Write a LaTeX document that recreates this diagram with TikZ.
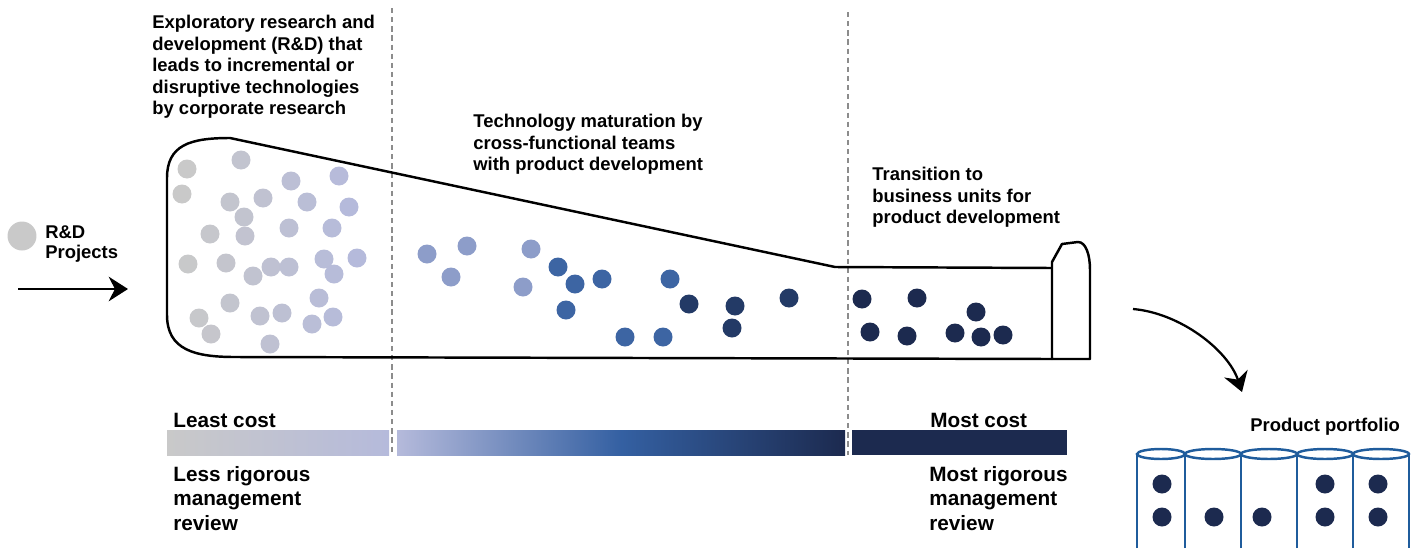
\documentclass[tikz,border=0pt]{standalone}
\usepackage{fontspec}
\setmainfont{Liberation Sans}
\usetikzlibrary{arrows.meta}

\definecolor{dotgray}{HTML}{C9C9C9}
\definecolor{dotlav}{HTML}{B5BADB}
\definecolor{dotsky}{HTML}{8D9DC9}
\definecolor{dotblue}{HTML}{3D65A3}
\definecolor{dotdeep}{HTML}{233A66}
\definecolor{dotnavy}{HTML}{1C2A4F}
\definecolor{barblue}{HTML}{3460A2}
\definecolor{cylblue}{HTML}{1F5C9C}
\definecolor{guidegray}{HTML}{8C8C8C}

%Cost ramp of the middle stage: lavender, blue, navy
\pgfdeclarehorizontalshading{costramp}{100bp}{color(0bp)=(dotlav); color(25bp)=(dotlav);
	color(50bp)=(barblue); color(75bp)=(dotnavy); color(100bp)=(dotnavy)}

\tikzset{
  dot/.style={circle, fill=#1, inner sep=0pt, minimum size=0.38cm},
  note/.style={anchor=north west, inner sep=0pt, align=left, font=\bfseries\fontsize{10.5}{12.2}\selectfont},
  costnote/.style={anchor=north west, inner sep=0pt, align=left, font=\bfseries\fontsize{11.8}{13.9}\selectfont},
  guide/.style={guidegray, line width=1.1pt, dash pattern=on 3pt off 2.2pt},
  outline/.style={line width=1.4pt, line join=round},
  cyl/.style={cylblue, line width=1.4pt},
  flow/.style={line width=1.3pt, -{Stealth[length=11pt,width=14pt]}},
}

\begin{document}
\begin{tikzpicture}[x=0.02cm, y=-0.02cm]

	%Page frame, in pixels of the original
	\useasboundingbox (0,0) rectangle (1416,548);

	%Stage separators
	\draw[guide] (392,8) -- (392,455);
	\draw[guide] (848,12) -- (848,455);

	%Funnel body and its end cap
	\draw[outline] (1052,268) -- (835,267) -- (230,138)
		.. controls (190,138) and (167,145) .. (167,178) -- (167,315)
		.. controls (167,350) and (195,357) .. (235,357) -- (1052,359);
	\draw[outline] (1052,359) -- (1052,262) -- (1062,244) -- (1078,242)
		.. controls (1086,242) and (1090,255) .. (1090,270) -- (1090,359) -- cycle;

	%Exploratory projects, gray fading to lavender
	\foreach \x/\y [count=\i] in {187/169, 241/160, 182/194, 291/181, 339/176, 230/202, 263/198,
		307/202, 349/207, 244/217, 210/234, 245/236, 289/228, 332/228, 188/264, 226/263,
		253/276, 271/267, 289/267, 324/259, 334/274, 357/258, 230/303, 199/318, 211/334,
		260/316, 282/313, 319/298, 312/324, 333/317, 270/344} {
		\pgfmathtruncatemacro{\mix}{min(100,max(0,(\x-182)/170*100))}
		\node[dot=dotlav!\mix!dotgray] (e\i) at (\x,\y) {};
	}

	%Maturing projects
	\foreach \x/\y [count=\i] in {427/254, 467/246, 451/277, 531/249, 523/287}
		\node[dot=dotsky] (s\i) at (\x,\y) {};
	\foreach \x/\y [count=\i] in {558/267, 575/284, 602/279, 566/310, 670/279, 625/337, 663/337}
		\node[dot=dotblue] (b\i) at (\x,\y) {};
	\foreach \x/\y [count=\i] in {689/304, 735/306, 732/328, 789/298}
		\node[dot=dotdeep] (d\i) at (\x,\y) {};

	%Projects handed to business units
	\foreach \x/\y [count=\i] in {862/299, 917/298, 976/312, 870/332, 907/336, 955/333, 981/337, 1003/335}
		\node[dot=dotnavy] (n\i) at (\x,\y) {};

	%Stage descriptions
	\node[note] (explore) at (152,15) {Exploratory research and\\development (R\&D) that\\leads to incremental or\\disruptive technologies\\by corporate research};
	\node[note] (mature) at (473,114) {Technology maturation by\\cross-functional teams\\with product development};
	\node[note] (handover) at (872,167) {Transition to\\business units for\\product development};

	%Input
	\node[circle, fill=dotgray, inner sep=0pt, minimum size=0.58cm] (rdmark) at (22,236) {};
	\node[note, font=\bfseries\fontsize{10.5}{11.4}\selectfont] (rdlabel) at (45,225) {R\&D\\Projects};
	\coordinate (feedtail) at (18,289);
	\coordinate (feedhead) at (128,289);
	\draw[flow] (feedtail) -- (feedhead);

	%Cost bar
	\shade[left color=dotgray, right color=dotlav] (167,430) rectangle (389,455);
	\shade[shading=costramp] (397,430) rectangle (845,455);
	\fill[dotnavy] (852,430) rectangle (1067,455);

	\node[costnote] (leastcost) at (173,413) {Least cost};
	\node[costnote] (lessreview) at (173,466) {Less rigorous\\management\\review};
	\node[costnote] (mostcost) at (930,413) {Most cost};
	\node[costnote] (mostreview) at (929,466) {Most rigorous\\management\\review};

	%Out to the portfolio
	\coordinate (funnelout) at (1133,309);
	\coordinate (shelftop) at (1242,392);
	\draw[flow] (funnelout) .. controls (1180,313) and (1228,350) .. (shelftop);

	\node[note] (portfolio) at (1250,418) {Product portfolio};

	%Product cylinders
	\foreach \a/\b in {1137/1185, 1185/1241, 1241/1297, 1297/1353, 1353/1409} {
		\draw[cyl] (\a,548) -- (\a,454) (\b,454) -- (\b,548);
		\draw[cyl] ({(\a+\b)/2},454) ellipse [x radius={(\b-\a)*0.01cm}, y radius=0.1cm];
	}
	\foreach \x/\y [count=\i] in {1162/484, 1162/517, 1214/517, 1262/517, 1325/484, 1325/517, 1378/484, 1378/517}
		\node[dot=dotnavy] (p\i) at (\x,\y) {};

\end{tikzpicture}
\end{document}
